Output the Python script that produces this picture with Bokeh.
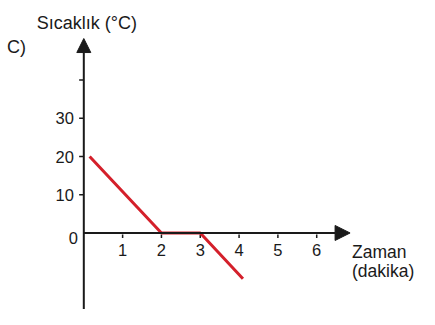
from bokeh.plotting import figure
from bokeh.models import Arrow, NormalHead, ColumnDataSource
from bokeh.core.properties import value
from bokeh.embed import file_html
from bokeh.resources import INLINE

# ---- data ----
time_min = [0.15, 2.0, 3.0, 4.1]          # Zaman (dakika)
temp_c = [20, 0, 0, -12]                  # Sıcaklık (°C)

x_ticks = [1, 2, 3, 4, 5, 6]
x_tick_labels = ["1", "2", "3", "4", "5", "6"]
y_ticks = [10, 20, 30, 40]
y_tick_labels = ["10", "20", "30", ""]
origin_label = "0"

y_title = "Sıcaklık (°C)"
x_title_1 = "Zaman"
x_title_2 = "(dakika)"
panel_label = "C)"

# ---- layout ----
W, H = 419, 309
x_lo, x_hi = -2.146, 8.648
y_lo, y_hi = -20.02, 60.82
x_tip, y_tip = 6.86, 50.87

FONT = value("Liberation Sans")
INK = "#1a1a1a"
RED = "#d4202b"

p = figure(width=W, height=H, x_range=(x_lo, x_hi), y_range=(y_lo, y_hi),
           output_backend="svg", toolbar_location=None, min_border=0,
           background_fill_color="white", border_fill_color="white")
p.axis.visible = False
p.grid.visible = False
p.outline_line_color = None

# axes with arrowheads
p.add_layout(Arrow(end=NormalHead(size=14, fill_color=INK, line_color=INK, line_width=1),
                   x_start=0, y_start=y_lo, x_end=0, y_end=y_tip,
                   line_color=INK, line_width=2))
p.add_layout(Arrow(end=NormalHead(size=15, fill_color=INK, line_color=INK, line_width=1),
                   x_start=0, y_start=0, x_end=x_tip, y_end=0,
                   line_color=INK, line_width=2))

# tick marks
xt = ColumnDataSource(dict(x=x_ticks, lab=x_tick_labels, y=[0] * len(x_ticks)))
p.segment(x0="x", x1="x", y0=-0.4, y1=-1.3, source=xt, line_color=INK, line_width=1.5)
yt = ColumnDataSource(dict(y=y_ticks, lab=y_tick_labels, x=[0] * len(y_ticks)))
p.segment(x0=-0.12, x1=-0.02, y0="y", y1="y", source=yt, line_color=INK, line_width=1.5)

# tick labels
p.text(x="x", y="y", text="lab", source=xt, text_align="center", text_baseline="middle",
       y_offset=17, text_font=FONT, text_font_size="16.5px", text_color=INK)
p.text(x="x", y="y", text="lab", source=yt, text_align="right", text_baseline="middle",
       x_offset=-10, text_font=FONT, text_font_size="16.5px", text_color=INK)
p.text(x=[0], y=[0], text=[origin_label], text_align="right", text_baseline="middle",
       x_offset=-6, y_offset=5, text_font=FONT, text_font_size="16.5px", text_color=INK)

# data line
p.line(time_min, temp_c, line_color=RED, line_width=3)

# titles
p.text(x=[-1.21], y=[54.85], text=[y_title], text_align="left", text_baseline="alphabetic",
       text_font=FONT, text_font_size="18px", text_color=INK)
p.text(x=[6.91, 6.91], y=[-4.93, -9.9], text=[x_title_1, x_title_2], text_align="left",
       text_baseline="alphabetic", text_font=FONT, text_font_size="17.5px", text_color=INK)
p.text(x=[-1.98], y=[48.56], text=[panel_label], text_align="left", text_baseline="alphabetic",
       text_font=FONT, text_font_size="18px", text_color=INK)

open("out.html", "w").write(file_html(p, INLINE))
